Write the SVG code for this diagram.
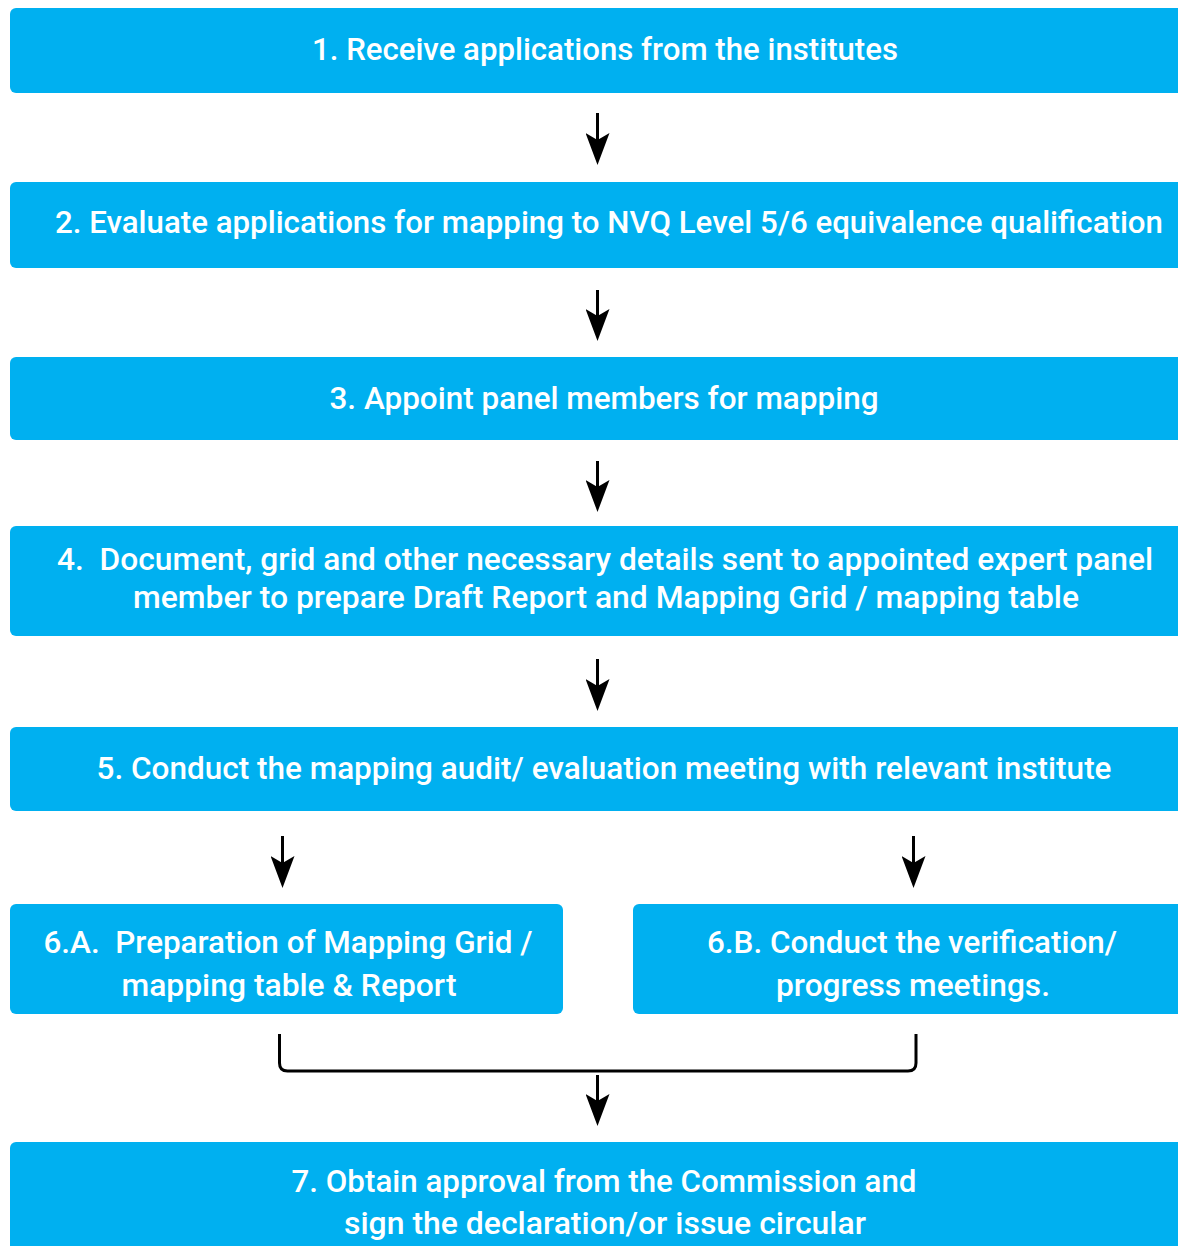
<svg xmlns="http://www.w3.org/2000/svg" width="1178" height="1246" viewBox="0 0 1178 1246">
  <style>
    .box { fill: #00B0F0; }
    .lbl { fill: #FFFFFF; font-family: "Roboto", "Liberation Sans", sans-serif; font-size: 31px; font-weight: 500; text-anchor: middle; }
    .arrow { stroke: #000000; stroke-width: 3; fill: none; marker-end: url(#head); }
    .bracket { stroke: #000000; stroke-width: 3; fill: none; }
  </style>
  <defs>
    <marker id="head" viewBox="0 0 32 24" markerUnits="userSpaceOnUse" markerWidth="32" markerHeight="24" refX="12" refY="12" orient="auto">
      <path d="M0,0 L32,12 L0,24 L7,12 Z" fill="#000000"/>
    </marker>
  </defs>
  <rect width="1178" height="1246" fill="#FFFFFF"/>

  <g id="step1">
    <rect class="box" x="10" y="8" width="1190" height="85" rx="6"/>
    <text class="lbl" x="605" y="60" textLength="586" lengthAdjust="spacingAndGlyphs">1. Receive applications from the institutes</text>
  </g>

  <g id="step2">
    <rect class="box" x="10" y="182" width="1190" height="86" rx="6"/>
    <text class="lbl" x="609" y="233" textLength="1108" lengthAdjust="spacingAndGlyphs">2. Evaluate applications for mapping to NVQ Level 5/6 equivalence qualification</text>
  </g>

  <g id="step3">
    <rect class="box" x="10" y="357" width="1190" height="83" rx="6"/>
    <text class="lbl" x="604" y="409" textLength="549" lengthAdjust="spacingAndGlyphs">3. Appoint panel members for mapping</text>
  </g>

  <g id="step4">
    <rect class="box" x="10" y="526" width="1190" height="110" rx="6"/>
    <text class="lbl" x="605" y="570" textLength="1096" lengthAdjust="spacingAndGlyphs" xml:space="preserve">4.  Document, grid and other necessary details sent to appointed expert panel</text>
    <text class="lbl" x="606" y="608" textLength="946" lengthAdjust="spacingAndGlyphs">member to prepare Draft Report and Mapping Grid / mapping table</text>
  </g>

  <g id="step5">
    <rect class="box" x="10" y="727" width="1190" height="84" rx="6"/>
    <text class="lbl" x="604" y="779" textLength="1015" lengthAdjust="spacingAndGlyphs">5. Conduct the mapping audit/ evaluation meeting with relevant institute</text>
  </g>

  <g id="step6a">
    <rect class="box" x="10" y="904" width="553" height="110" rx="6"/>
    <text class="lbl" x="288" y="953" textLength="489" lengthAdjust="spacingAndGlyphs" xml:space="preserve">6.A.  Preparation of Mapping Grid /</text>
    <text class="lbl" x="289" y="996" textLength="335" lengthAdjust="spacingAndGlyphs">mapping table &amp; Report</text>
  </g>

  <g id="step6b">
    <rect class="box" x="633" y="904" width="567" height="110" rx="6"/>
    <text class="lbl" x="912" y="953" textLength="410" lengthAdjust="spacingAndGlyphs">6.B. Conduct the verification/</text>
    <text class="lbl" x="913" y="996" textLength="274" lengthAdjust="spacingAndGlyphs">progress meetings.</text>
  </g>

  <g id="step7">
    <rect class="box" x="10" y="1142" width="1190" height="130" rx="6"/>
    <text class="lbl" x="604" y="1192" textLength="625" lengthAdjust="spacingAndGlyphs">7. Obtain approval from the Commission and</text>
    <text class="lbl" x="605" y="1234" textLength="522" lengthAdjust="spacingAndGlyphs">sign the declaration/or issue circular</text>
  </g>

  <g id="connectors">
    <line class="arrow" x1="597.5" y1="113" x2="597.5" y2="145"/>
    <line class="arrow" x1="597.5" y1="290" x2="597.5" y2="321"/>
    <line class="arrow" x1="597.5" y1="461" x2="597.5" y2="492"/>
    <line class="arrow" x1="597.5" y1="659" x2="597.5" y2="691"/>
    <line class="arrow" x1="282.5" y1="836" x2="282.5" y2="868"/>
    <line class="arrow" x1="913.5" y1="836" x2="913.5" y2="868"/>
    <path class="bracket" d="M279.5,1034 V1063 Q279.5,1071 287.5,1071 H908 Q916,1071 916,1063 V1034"/>
    <line class="arrow" x1="597.5" y1="1075" x2="597.5" y2="1106"/>
  </g>
</svg>
